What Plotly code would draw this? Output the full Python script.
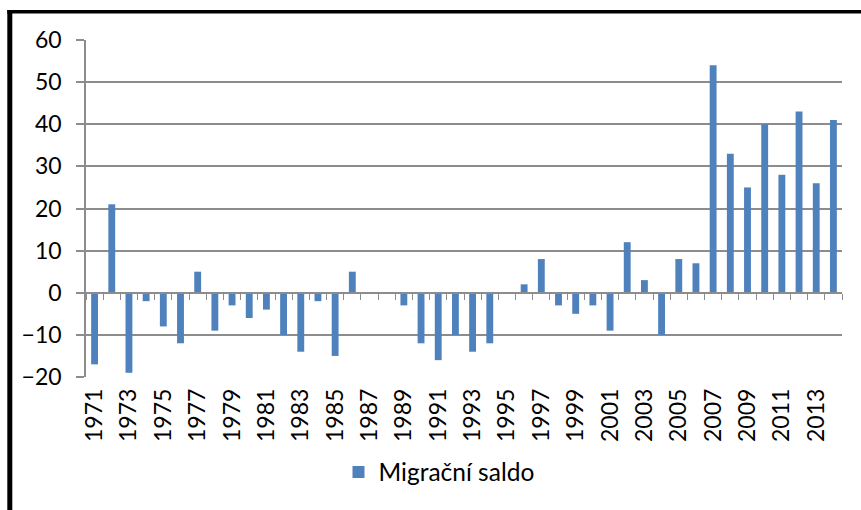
import plotly.graph_objects as go

years = list(range(1971, 2015))
saldo = [-17, 21, -19, -2, -8, -12, 5, -9, -3, -6,
         -4, -10, -14, -2, -15, 5, 0, 0, -3, -12,
         -16, -10, -14, -12, 0, 2, 8, -3, -5, -3,
         -9, 12, 3, -10, 8, 7, 54, 33, 25, 40,
         28, 43, 26, 41]
tick_years = list(range(1971, 2014, 2))
series_name = "Migrační saldo"

W, H = 861, 510
L, R, T, B = 86, 19, 40, 133
pw, ph = W - L - R, H - T - B

def px(x):
    return (x - L) / pw

def py(y):
    return (H - B - y) / ph

grid = "#8c8c8c"
font = "Lato"

fig = go.Figure()
fig.add_trace(go.Bar(x=years, y=saldo, name=series_name, width=0.4,
                     marker=dict(color="#4f81bd", line=dict(width=0)),
                     showlegend=True))
# invisible trace on xaxis2 to activate it
fig.add_trace(go.Scatter(x=[years[0]], y=[0], xaxis="x2", mode="markers",
                         marker=dict(opacity=0), showlegend=False, hoverinfo="skip"))

xr = [years[0] - 0.5, years[-1] + 0.5]
fig.update_layout(
    width=W, height=H,
    margin=dict(l=L, r=R, t=T, b=B),
    paper_bgcolor="white", plot_bgcolor="white",
    font=dict(family=font, color="black"),
    xaxis=dict(range=xr, tickvals=tick_years, ticktext=[str(y) for y in tick_years],
               tickangle=-90, ticks="", showgrid=False, showline=False, zeroline=False,
               tickfont=dict(size=23, family=font), ticklabelstandoff=6),
    xaxis2=dict(range=xr, overlaying="x", anchor="free", position=0.25,
                tickvals=[y + 0.5 for y in [years[0] - 1] + years], ticks="outside",
                ticklen=6, tickcolor=grid, tickwidth=1.2, showticklabels=False,
                showline=True, linecolor=grid, linewidth=1.5, showgrid=False, zeroline=False),
    yaxis=dict(range=[-20, 60], dtick=10, showgrid=True, gridcolor=grid, gridwidth=1.5,
               zeroline=False, showline=True, linecolor=grid, linewidth=1.5,
               ticks="outside", ticklen=8, tickcolor=grid, tickwidth=1.5,
               tickfont=dict(size=23, family=font), ticklabelstandoff=10),
    legend=dict(orientation="h", x=px(439), y=py(472), xanchor="center", yanchor="middle",
                font=dict(size=24.5, family=font), itemwidth=30),
    bargap=0.6,
    shapes=[
        dict(type="line", xref="paper", yref="paper", x0=px(9.8), x1=px(9.8),
             y0=py(10), y1=py(515), line=dict(color="black", width=5)),
        dict(type="line", xref="paper", yref="paper", x0=px(7.3), x1=px(870),
             y0=py(11.8), y1=py(11.8), line=dict(color="black", width=3.5)),
    ],
)
fig.write_html("out.html", config={"displayModeBar": False},
               post_script="document.body.style.margin='0';document.body.style.overflow='hidden';")
